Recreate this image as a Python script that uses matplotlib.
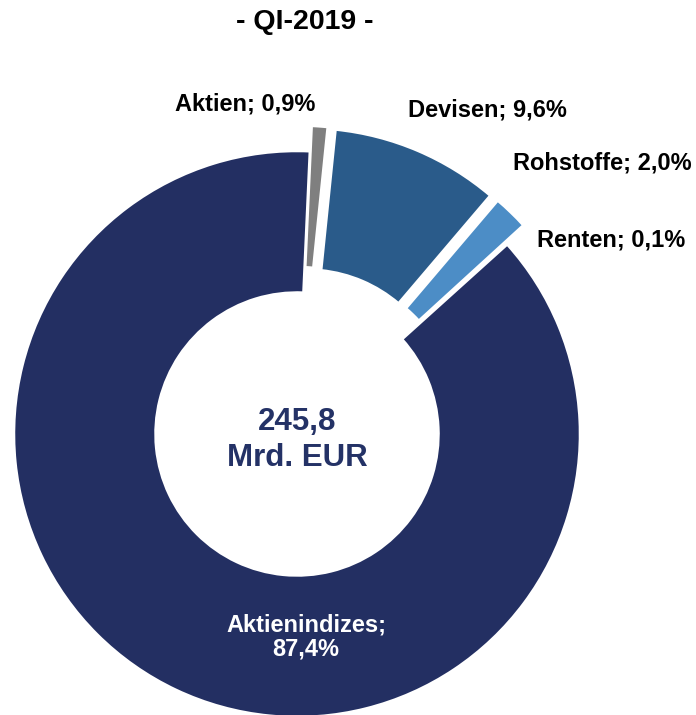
import matplotlib
matplotlib.use("Agg")
import matplotlib.pyplot as plt
from matplotlib import font_manager

categories = ["Aktien", "Devisen", "Rohstoffe", "Renten", "Aktienindizes"]
shares = [0.9, 9.6, 2.0, 0.1, 87.4]
colors = ["#7F7F7F", "#2A5B8A", "#4C8DC6", "#BFBFBF", "#232F62"]
explode = [0.09, 0.088, 0.088, 0.088, 0.0]
title = "- QI-2019 -"
total_label = "245,8\nMrd. EUR"

def fmt(v):
    return f"{v:.1f}".replace(".", ",") + "%"

# narrow font for the inside label
narrow = None
for fam in ["Liberation Sans Narrow", "Arial Narrow"]:
    try:
        font_manager.findfont(font_manager.FontProperties(family=fam), fallback_to_default=False)
        narrow = fam
        break
    except Exception:
        pass

plt.rcParams['font.family'] = ['Liberation Sans', 'DejaVu Sans']

W, H = 696, 715
fig = plt.figure(figsize=(W / 100, H / 100), dpi=100)
ax = fig.add_axes([0, 0, 1, 1])

cx, cy, R = 297, 434, 283
def px(x, y):
    return ((x - cx) / R, (cy - y) / R)

wedges, _ = ax.pie(shares, colors=colors, explode=explode, startangle=87.4,
                   counterclock=False, radius=1.0,
                   wedgeprops=dict(width=0.5, edgecolor="white", linewidth=1.8))

ax.set_xlim(-cx / R, (W - cx) / R)
ax.set_ylim(-(H - cy) / R, cy / R)
ax.set_aspect("auto")
ax.axis("off")

# outside labels
label_pos = {"Aktien": (245, 104), "Devisen": (487, 110),
             "Rohstoffe": (602, 163), "Renten": (611, 240)}
for cat, val in zip(categories, shares):
    if cat in label_pos:
        x, y = px(*label_pos[cat])
        ax.text(x, y, f"{cat}; {fmt(val)}", ha="center", va="center",
                fontsize=17, fontweight="bold", color="black")

# inside label of the big slice
x, y = px(306, 637)
kw = dict(ha="center", va="center", fontsize=17, fontweight="bold",
          color="white", linespacing=1.1)
if narrow:
    ax.text(x, y, f"{categories[4]};\n{fmt(shares[4])}", family=narrow, **kw)
else:
    ax.text(x, y, f"{categories[4]};\n{fmt(shares[4])}", **kw)

# center total
x, y = px(297, 440)
ax.text(x, y, total_label, ha="center", va="center", fontsize=22.5,
        fontweight="bold", color="#243266", linespacing=1.25)

# title
x, y = px(305, 22)
ax.text(x, y, title, ha="center", va="center", fontsize=20.5, fontweight="bold",
        color="black")

fig.savefig("out.png", dpi=100)
